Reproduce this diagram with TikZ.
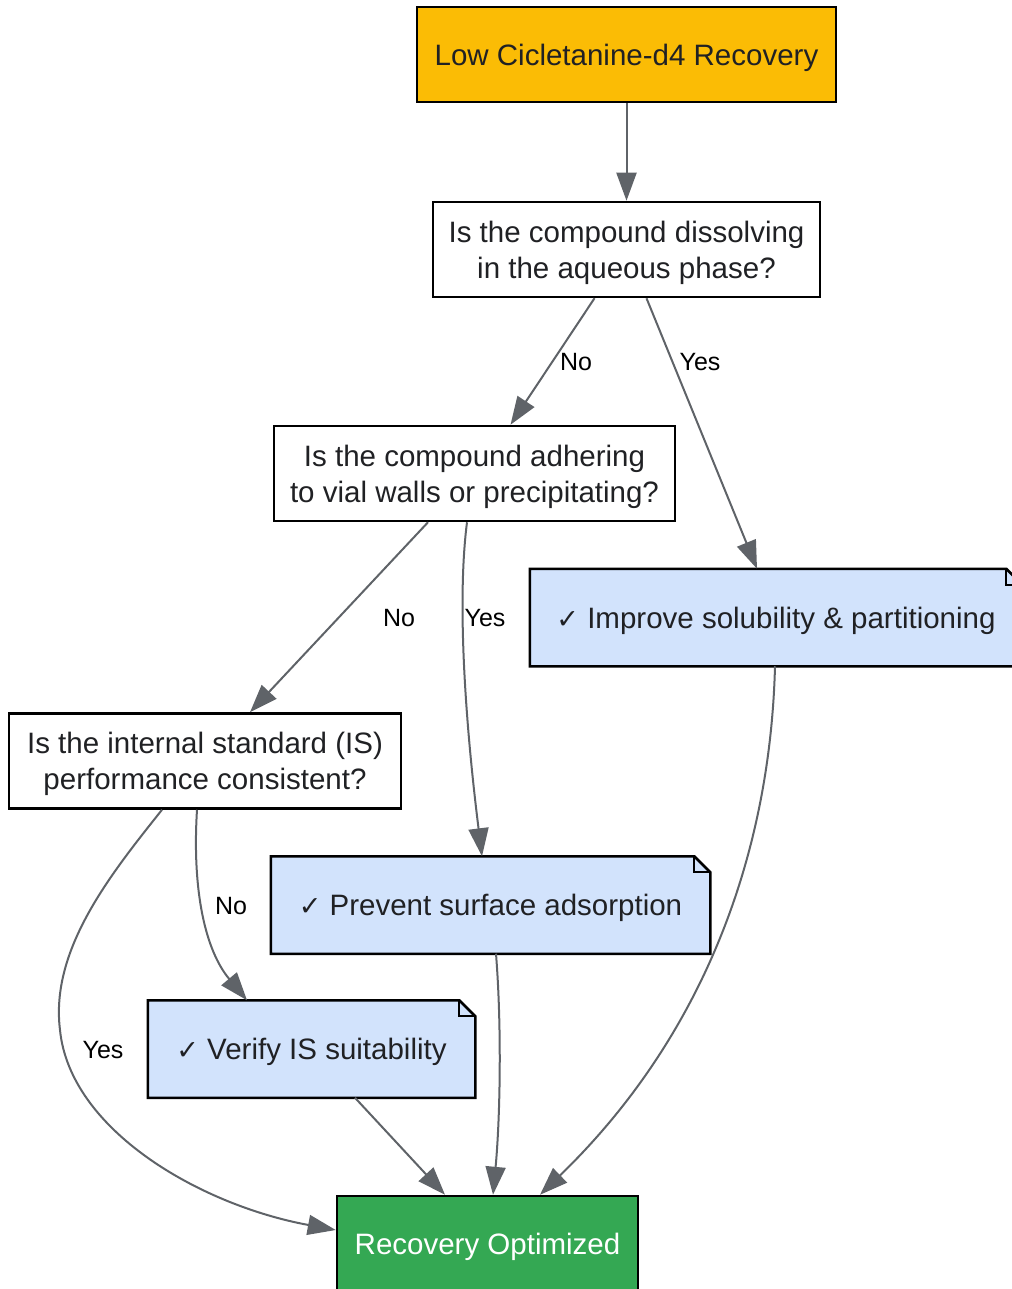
\documentclass[tikz,border=0pt]{standalone}
\usepackage{fontspec}
\setmainfont{Liberation Sans}
\newfontfamily\symfont{DejaVu Sans}
\usetikzlibrary{arrows.meta, backgrounds}
\definecolor{startyellow}{HTML}{FBBC05}
\definecolor{endgreen}{HTML}{34A853}
\definecolor{fixblue}{HTML}{D2E3FC}
\definecolor{edgegray}{HTML}{5F6368}
\definecolor{txt}{HTML}{202124}
\newcommand{\ok}{{\symfont\fontsize{27}{27}\selectfont ✓}}
\begin{document}
\begin{tikzpicture}[x=1pt, y=-1pt,
    box/.style={draw=black, line width=2.5pt, minimum height=95pt, inner sep=0pt,
        align=center, text=txt, text depth=0pt, font=\fontsize{29.5}{36}\selectfont},
    fix/.style={box, draw=none},
    lbl/.style={text=black, inner sep=0pt, font=\fontsize{25}{28}\selectfont},
    edge/.style={draw=edgegray, line width=2pt, -{Triangle[length=28pt, width=20pt]}}]
    \useasboundingbox (0,0) rectangle (1011,1289);
    % questions and outcome
    \node[box, fill=startyellow, minimum width=419pt] (start) at (626.5,54.5) {Low Cicletanine-d4 Recovery};
    \node[box, fill=white, minimum width=387pt] (q1) at (626.5,249.5) {Is the compound dissolving\\in the aqueous phase?};
    \node[box, fill=white, minimum width=401pt] (q2) at (474.5,473.5) {Is the compound adhering\\to vial walls or precipitating?};
    \node[box, fill=white, minimum width=392pt] (q3) at (205,761) {Is the internal standard (IS)\\performance consistent?};
    \node[box, fill=endgreen, text=white, minimum width=301pt] (done) at (487.5,1243.5) {Recovery Optimized};
    % fixes (note shape drawn behind)
    \node[fix, minimum width=490pt] (s1) at (776,617.5) {\ok\ Improve solubility \& partitioning};
    \node[fix, minimum width=437pt] (s2) at (490.5,905) {\ok\ Prevent surface adsorption};
    \node[fix, minimum width=325pt] (s3) at (311.5,1049) {\ok\ Verify IS suitability};
    \begin{pgfonlayer}{background}
        \foreach \n in {s1,s2,s3} {
            \filldraw[fill=fixblue, draw=black, line width=2.5pt, line join=miter]
                (\n.south west) -- (\n.north west) -- ([xshift=-16pt]\n.north east)
                -- ([yshift=-16pt]\n.north east) -- (\n.south east) -- cycle;
            \draw[line width=2pt] ([xshift=-16pt]\n.north east) |- ([yshift=-16pt]\n.north east);
        }
    \end{pgfonlayer}
    % connectors
    \draw[edge] (start) -- (q1);
    \draw[edge] ([xshift=-32pt]q1.south) -- ([xshift=36pt]q2.north);
    \draw[edge] ([xshift=20pt]q1.south) -- ([xshift=-19pt]s1.north);
    \draw[edge] ([xshift=-46.5pt]q2.south) -- ([xshift=45pt]q3.north);
    \draw[edge] ([xshift=-7.5pt]q2.south) .. controls (457,600) and (465,720) .. ([xshift=-8.5pt]s2.north);
    \draw[edge] ([xshift=-43pt]q3.south) .. controls (110,875) and (50,950) .. (60,1030)
        .. controls (70,1130) and (200,1205) .. ([yshift=13.5pt]done.west);
    \draw[edge] ([xshift=-8pt]q3.south) .. controls (192,890) and (205,950) .. ([xshift=-64.5pt]s3.north);
    \draw[edge] ([xshift=-1pt]s1.south) .. controls (770,860) and (700,1040) .. ([xshift=52.5pt]done.north);
    \draw[edge] ([xshift=5.5pt]s2.south) .. controls (502,1030) and (500,1120) .. ([xshift=5.5pt]done.north);
    \draw[edge] ([xshift=43.5pt]s3.south) -- ([xshift=-42.5pt]done.north);
    % edge labels
    \node[lbl] (l1) at (576,362) {No};
    \node[lbl] (l2) at (700,362) {Yes};
    \node[lbl] (l3) at (399,618) {No};
    \node[lbl] (l4) at (485,618) {Yes};
    \node[lbl] (l5) at (231,906) {No};
    \node[lbl] (l6) at (103,1050) {Yes};
\end{tikzpicture}
\end{document}
